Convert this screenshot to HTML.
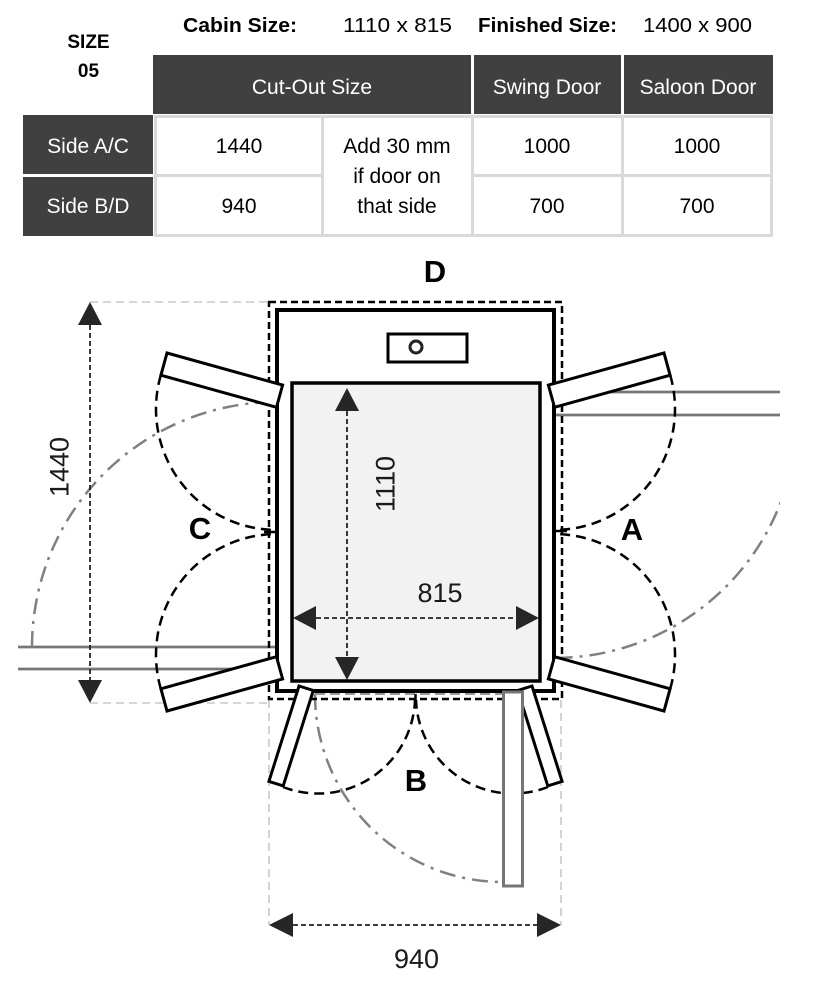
<!DOCTYPE html>
<html>
<head>
<meta charset="utf-8">
<style>
  html, body { margin: 0; padding: 0; background: #ffffff; }
  body { width: 813px; height: 993px; overflow: hidden; }
  svg { display: block; }
</style>
</head>
<body>
<svg width="813" height="993" viewBox="0 0 813 993" xmlns="http://www.w3.org/2000/svg" font-family="'Liberation Sans', Arial, sans-serif">
  <defs>
    <clipPath id="clipR"><rect x="0" y="0" width="780" height="993"/></clipPath>
  </defs>

  <!-- ===== Top info ===== -->
  <text x="88.5" y="48" font-size="19" font-weight="bold" text-anchor="middle" fill="#000">SIZE</text>
  <text x="88.5" y="77" font-size="19" font-weight="bold" text-anchor="middle" fill="#000">05</text>
  <text x="183" y="32" font-size="20" font-weight="bold" textLength="114" lengthAdjust="spacingAndGlyphs" fill="#000">Cabin Size:</text>
  <text x="343" y="32" font-size="20" textLength="109" lengthAdjust="spacingAndGlyphs" fill="#000">1110 x 815</text>
  <text x="478" y="32" font-size="20" font-weight="bold" textLength="139" lengthAdjust="spacingAndGlyphs" fill="#000">Finished Size:</text>
  <text x="643" y="32" font-size="20" textLength="109" lengthAdjust="spacingAndGlyphs" fill="#000">1400 x 900</text>

  <!-- ===== Table ===== -->
  <rect x="153" y="55" width="318" height="59" fill="#404040"/>
  <rect x="474" y="55" width="147" height="59" fill="#404040"/>
  <rect x="624" y="55" width="149" height="59" fill="#404040"/>
  <text x="312" y="94" font-size="21" text-anchor="middle" fill="#ffffff">Cut-Out Size</text>
  <text x="547" y="94" font-size="21" text-anchor="middle" fill="#ffffff">Swing Door</text>
  <text x="698" y="94" font-size="21" text-anchor="middle" fill="#ffffff">Saloon Door</text>

  <rect x="23" y="115" width="130" height="59" fill="#404040"/>
  <rect x="23" y="177" width="130" height="59" fill="#404040"/>
  <text x="88" y="153" font-size="21" text-anchor="middle" fill="#ffffff">Side A/C</text>
  <text x="88" y="213" font-size="21" text-anchor="middle" fill="#ffffff">Side B/D</text>

  <g stroke="#d9d9d9" stroke-width="3" fill="none">
    <line x1="154" y1="116.5" x2="773" y2="116.5"/>
    <line x1="154" y1="175.5" x2="322" y2="175.5"/>
    <line x1="472" y1="175.5" x2="773" y2="175.5"/>
    <line x1="154" y1="235.5" x2="773" y2="235.5"/>
    <line x1="155.5" y1="115" x2="155.5" y2="237"/>
    <line x1="322.5" y1="115" x2="322.5" y2="237"/>
    <line x1="472.5" y1="115" x2="472.5" y2="237"/>
    <line x1="622.5" y1="115" x2="622.5" y2="237"/>
    <line x1="771.5" y1="115" x2="771.5" y2="237"/>
  </g>
  <g font-size="21" text-anchor="middle" fill="#000">
    <text x="239" y="153">1440</text>
    <text x="239" y="213">940</text>
    <text x="397" y="153">Add 30 mm</text>
    <text x="397" y="183">if door on</text>
    <text x="397" y="213">that side</text>
    <text x="547" y="153">1000</text>
    <text x="697" y="153">1000</text>
    <text x="547" y="213">700</text>
    <text x="697" y="213">700</text>
  </g>

  <!-- ===== Extension lines (light gray dashed) ===== -->
  <g stroke="#c8c8c8" stroke-width="1.6" stroke-dasharray="8 5" fill="none">
    <line x1="90" y1="302" x2="268" y2="302"/>
    <line x1="90" y1="703" x2="268" y2="703"/>
    <line x1="269" y1="700" x2="269" y2="925"/>
    <line x1="561" y1="700" x2="561" y2="925"/>
  </g>

  <!-- ===== Saloon doors (gray) ===== -->
  <g clip-path="url(#clipR)">
    <g stroke="#767676" stroke-width="2.8" fill="none">
      <line x1="18" y1="647" x2="277" y2="647"/>
      <line x1="18" y1="669" x2="277" y2="669"/>
      <line x1="554" y1="392" x2="780" y2="392"/>
      <line x1="554" y1="415" x2="780" y2="415"/>
    </g>
    <g stroke="#808080" stroke-width="2.5" fill="none" stroke-dasharray="16 7 3 7">
      <path d="M32,647 A245,245 0 0 1 277,402"/>
      <path d="M797,415 A243,243 0 0 1 554,658"/>
      <path d="M315,694 A188,188 0 0 0 503,882"/>
    </g>
    <g stroke="#9a9a9a" stroke-width="2" fill="none" stroke-dasharray="10 5">
      <line x1="276" y1="410" x2="276" y2="647"/>
      <line x1="555" y1="415" x2="555" y2="655"/>
      <line x1="315" y1="694" x2="503" y2="694"/>
    </g>
  </g>

  <!-- ===== Cut-out dashed rect ===== -->
  <rect x="269" y="302" width="293" height="397" fill="none" stroke="#000" stroke-width="2.5" stroke-dasharray="7 4"/>

  <!-- ===== Cabin ===== -->
  <rect x="277" y="310" width="277" height="381" fill="none" stroke="#000" stroke-width="4"/>
  <!-- Tray -->
  <rect x="292" y="383" width="248" height="298" fill="#f2f2f2" stroke="#000" stroke-width="3.5"/>
  <!-- Control box -->
  <rect x="388" y="334" width="79" height="28" fill="#ffffff" stroke="#000" stroke-width="3"/>
  <circle cx="416" cy="347" r="6" fill="none" stroke="#222" stroke-width="3"/>

  <!-- ===== Tray dimensions ===== -->
  <g stroke="#222" stroke-width="1.8" stroke-dasharray="5 3" fill="none">
    <line x1="347" y1="411" x2="347" y2="657"/>
    <line x1="316" y1="618" x2="516" y2="618"/>
  </g>
  <g fill="#262626">
    <polygon points="347,388 335,411 359,411"/>
    <polygon points="347,680 335,657 359,657"/>
    <polygon points="293,618 316,606 316,630"/>
    <polygon points="539,618 516,606 516,630"/>
  </g>
  <text transform="translate(385,484) rotate(-90)" x="0" y="9.7" font-size="27" text-anchor="middle" fill="#1a1a1a">1110</text>
  <text x="440" y="602" font-size="27" text-anchor="middle" fill="#1a1a1a">815</text>

  <!-- ===== Outer dimensions ===== -->
  <g stroke="#222" stroke-width="1.8" stroke-dasharray="5 3" fill="none">
    <line x1="90" y1="325" x2="90" y2="680"/>
    <line x1="293" y1="925" x2="537" y2="925"/>
  </g>
  <g fill="#262626">
    <polygon points="90,302 78,325 102,325"/>
    <polygon points="90,703 78,680 102,680"/>
    <polygon points="269,925 293,913 293,937"/>
    <polygon points="561,925 537,913 537,937"/>
  </g>
  <text transform="translate(59,467) rotate(-90)" x="0" y="9.7" font-size="27" text-anchor="middle" fill="#1a1a1a">1440</text>
  <text x="416.5" y="968" font-size="27" text-anchor="middle" fill="#1a1a1a">940</text>

  <!-- ===== Swing arcs (black dashed) ===== -->
  <g stroke="#000" stroke-width="2.5" fill="none" stroke-dasharray="10 6">
    <path d="M160.8,375.2 A121,121 0 0 0 277,530"/>
    <path d="M160.8,688.8 A121,121 0 0 1 277,534"/>
    <path d="M670.2,375.2 A121,121 0 0 1 554,530"/>
    <path d="M670.2,688.8 A121,121 0 0 0 554,534"/>
    <path d="M283,787 A97,97 0 0 0 415,700"/>
    <path d="M548,787 A97,97 0 0 1 416,700"/>
  </g>
  <g stroke="#000" stroke-width="2.5">
    <line x1="264" y1="532" x2="277" y2="532"/>
    <line x1="554" y1="531" x2="567" y2="531"/>
    <line x1="415.5" y1="694" x2="415.5" y2="708"/>
  </g>

  <!-- ===== Swing door panels ===== -->
  <g fill="#ffffff" stroke="#000" stroke-width="3" stroke-linejoin="miter">
    <polygon points="167,353 282.6,385.1 276.5,407.3 160.9,375.2"/>
    <polygon points="167,711 282.6,678.9 276.5,656.7 160.9,688.8"/>
    <polygon points="664,353 548.4,385.1 554.5,407.3 670.1,375.2"/>
    <polygon points="664,711 548.4,678.9 554.5,656.7 670.1,688.8"/>
    <polygon points="299,686 313.3,690.5 283.2,785.9 268.9,781.4"/>
    <polygon points="532,686 517.7,690.5 547.8,785.9 562.1,781.4"/>
  </g>

  <!-- Saloon door B panel -->
  <rect x="503.5" y="692" width="19" height="194" fill="#ffffff" stroke="#767676" stroke-width="3"/>

  <!-- ===== Side labels ===== -->
  <g font-size="31" font-weight="bold" text-anchor="middle" fill="#000">
    <text x="435" y="282">D</text>
    <text x="200" y="539">C</text>
    <text x="632" y="540">A</text>
    <text x="416" y="791">B</text>
  </g>
</svg>
</body>
</html>
